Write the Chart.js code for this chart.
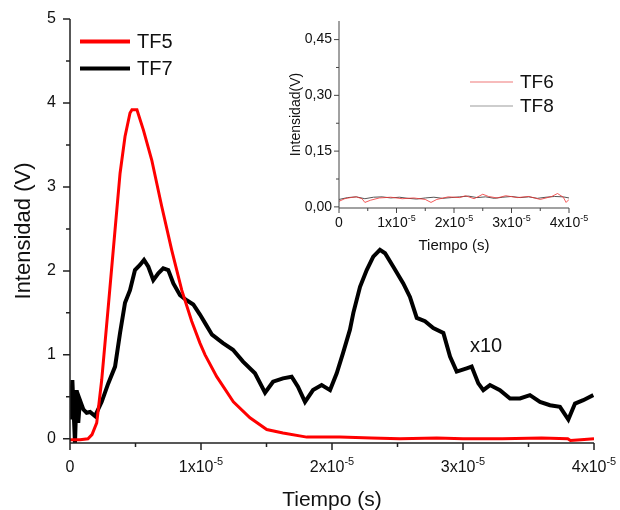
<!DOCTYPE html>
<html>
<head>
<meta charset="utf-8">
<script src="https://cdn.jsdelivr.net/npm/chart.js@4.4.0/dist/chart.umd.min.js"></script>
<style>
  html, body { margin: 0; padding: 0; background: #fff; }
  #wrap { position: relative; width: 620px; height: 510px; }
  #wrap canvas { position: absolute; left: 0; top: 0; }
</style>
</head>
<body>
<div id="wrap">
  <canvas id="main" width="620" height="510"></canvas>
  <canvas id="inset" width="620" height="510"></canvas>
</div>
<script>
// time in units of 1x10^-5 s, intensity in V (TF7 shown x10)
const tf5Time = [0, 0.076, 0.137, 0.168, 0.204, 0.242, 0.292, 0.344, 0.382, 0.420, 0.458, 0.473, 0.511, 0.560, 0.624, 0.700, 0.776, 0.853, 0.929, 0.992, 1.031, 1.120, 1.247, 1.374, 1.502, 1.626, 1.807, 2.061, 2.300, 2.519, 2.800, 3.000, 3.300, 3.600, 3.800, 3.820, 3.900, 4.000];
const tf5Values = [-0.01, -0.01, 0.0, 0.05, 0.19, 0.70, 1.57, 2.49, 3.16, 3.60, 3.88, 3.92, 3.92, 3.68, 3.32, 2.77, 2.25, 1.77, 1.40, 1.14, 1.00, 0.74, 0.44, 0.25, 0.11, 0.07, 0.02, 0.02, 0.01, 0.0, 0.01, 0.0, 0.0, 0.01, 0.0, -0.02, -0.01, 0.0];

const tf7Time = [0, 0.018, 0.038, 0.051, 0.063, 0.076, 0.102, 0.127, 0.153, 0.191, 0.242, 0.292, 0.344, 0.382, 0.420, 0.458, 0.496, 0.534, 0.565, 0.598, 0.636, 0.674, 0.712, 0.750, 0.789, 0.840, 0.891, 0.941, 0.992, 1.038, 1.084, 1.168, 1.244, 1.321, 1.412, 1.489, 1.550, 1.626, 1.692, 1.740, 1.794, 1.855, 1.921, 1.985, 2.036, 2.084, 2.137, 2.163, 2.214, 2.265, 2.315, 2.366, 2.405, 2.468, 2.544, 2.595, 2.647, 2.710, 2.773, 2.850, 2.901, 2.952, 3.028, 3.066, 3.117, 3.155, 3.206, 3.282, 3.359, 3.435, 3.511, 3.588, 3.664, 3.740, 3.804, 3.855, 3.918, 3.995];
const tf7Values = [0.23, 0.70, -0.05, 0.58, 0.19, 0.46, 0.35, 0.31, 0.32, 0.27, 0.44, 0.66, 0.86, 1.26, 1.62, 1.77, 2.01, 2.07, 2.13, 2.05, 1.89, 1.97, 2.03, 2.01, 1.85, 1.71, 1.65, 1.60, 1.48, 1.36, 1.24, 1.14, 1.06, 0.92, 0.78, 0.55, 0.68, 0.72, 0.74, 0.62, 0.44, 0.58, 0.64, 0.58, 0.78, 1.02, 1.30, 1.50, 1.81, 2.01, 2.17, 2.25, 2.21, 2.05, 1.85, 1.69, 1.44, 1.40, 1.32, 1.26, 0.98, 0.80, 0.84, 0.86, 0.66, 0.58, 0.64, 0.58, 0.48, 0.48, 0.52, 0.44, 0.40, 0.38, 0.23, 0.42, 0.46, 0.52];

// inset traces
const tf6Time = [0, 0.1, 0.2, 0.3, 0.4, 0.45, 0.55, 0.7, 0.9, 1.1, 1.3, 1.5, 1.6, 1.7, 1.9, 2.1, 2.2, 2.35, 2.5, 2.6, 2.75, 2.9, 3.1, 3.3, 3.5, 3.7, 3.8, 3.9, 3.95, 4.0];
const tf6Values = [0.015, 0.022, 0.025, 0.027, 0.022, 0.012, 0.018, 0.024, 0.026, 0.022, 0.024, 0.020, 0.012, 0.020, 0.027, 0.025, 0.030, 0.022, 0.034, 0.028, 0.024, 0.030, 0.025, 0.028, 0.020, 0.028, 0.036, 0.026, 0.012, 0.020];
const tf8Time = [0, 0.15, 0.3, 0.45, 0.6, 0.75, 0.9, 1.05, 1.2, 1.35, 1.5, 1.65, 1.8, 1.95, 2.1, 2.25, 2.4, 2.55, 2.7, 2.85, 3.0, 3.15, 3.3, 3.45, 3.6, 3.75, 3.9, 4.0];
const tf8Values = [0.020, 0.025, 0.027, 0.022, 0.026, 0.027, 0.024, 0.026, 0.023, 0.021, 0.024, 0.026, 0.023, 0.025, 0.027, 0.029, 0.025, 0.027, 0.023, 0.026, 0.028, 0.025, 0.027, 0.023, 0.026, 0.028, 0.027, 0.024];

// ticks
const timeTicks = [0, 1, 2, 3, 4];
const timeMinor = [0.5, 1.5, 2.5, 3.5];
const timeLabels = ['0', '1x10', '2x10', '3x10', '4x10'];
const timeExp = '-5';
const mainYTicks = [0, 1, 2, 3, 4, 5];
const mainYMinor = [0.5, 1.5, 2.5, 3.5, 4.5];
const mainYLabels = ['0', '1', '2', '3', '4', '5'];
const insetYTicks = [0, 0.15, 0.30, 0.45];
const insetYMinor = [0.075, 0.225, 0.375];
const insetYLabels = ['0,00', '0,15', '0,30', '0,45'];

const FONT = '"Liberation Sans", Arial, sans-serif';

function pts(t, v) {
    return t.map((x, i) => ({ x: x, y: v[i] }));
}

// per-canvas drawing spec for axes, labels and legend
const decorSpec = {
    main: {
        axisColor: '#222', axisWidth: 1.5, major: 7, minor: 4,
        yTicks: mainYTicks, yMinor: mainYMinor, yLabels: mainYLabels,
        xMinor: timeMinor, tickSize: 16, supSize: 11, supRise: 7, xLabelBase: 472, yLabelGap: 14,
        xTitle: 'Tiempo (s)', xTitleSize: 21, xTitleY: 506,
        yTitle: 'Intensidad (V)', yTitleSize: 22, yTitleX: 24,
        legend: { x1: 80, x2: 130, textX: 137, ys: [41.5, 68.5], size: 20, width: 4, colors: ['#ff0000', '#000000'] },
        note: { text: 'x10', x: 470, y: 352, size: 20 }
    },
    inset: {
        axisColor: '#444', axisWidth: 1, major: 5, minor: 3,
        yTicks: insetYTicks, yMinor: insetYMinor, yLabels: insetYLabels,
        xMinor: timeMinor, tickSize: 14, supSize: 9, supRise: 6, xLabelBase: 227, yLabelGap: 7,
        xTitle: 'Tiempo (s)', xTitleSize: 15, xTitleY: 250,
        yTitle: 'Intensidad(V)', yTitleSize: 14, yTitleX: 296,
        legend: { x1: 470, x2: 513, textX: 520, ys: [82, 106], size: 19, width: 1.5, colors: ['#f5a5a5', '#bdbdbd'] }
    }
};

// Chart.js has no minor ticks or superscript labels, so axes are drawn here
const decor = {
    id: 'decor',
    afterDraw(chart) {
        const o = decorSpec[chart.canvas.id];
        const ctx = chart.ctx, a = chart.chartArea;
        const xs = chart.scales.x, ys = chart.scales.y;
        ctx.save();
        ctx.strokeStyle = o.axisColor;
        ctx.lineWidth = o.axisWidth;
        ctx.beginPath();
        ctx.moveTo(a.left, a.top);
        ctx.lineTo(a.left, a.bottom);
        ctx.lineTo(a.right, a.bottom);
        o.yTicks.forEach(v => {
            const p = ys.getPixelForValue(v);
            ctx.moveTo(a.left - o.major, p); ctx.lineTo(a.left, p);
        });
        o.yMinor.forEach(v => {
            const p = ys.getPixelForValue(v);
            ctx.moveTo(a.left - o.minor, p); ctx.lineTo(a.left, p);
        });
        timeTicks.forEach(v => {
            const p = xs.getPixelForValue(v);
            ctx.moveTo(p, a.bottom); ctx.lineTo(p, a.bottom + o.major);
        });
        o.xMinor.forEach(v => {
            const p = xs.getPixelForValue(v);
            ctx.moveTo(p, a.bottom); ctx.lineTo(p, a.bottom + o.minor);
        });
        ctx.stroke();

        ctx.fillStyle = '#111';
        ctx.font = o.tickSize + 'px ' + FONT;
        ctx.textAlign = 'right';
        ctx.textBaseline = 'middle';
        o.yTicks.forEach((v, i) => ctx.fillText(o.yLabels[i], a.left - o.yLabelGap, ys.getPixelForValue(v)));

        ctx.textAlign = 'left';
        ctx.textBaseline = 'alphabetic';
        timeTicks.forEach((v, i) => {
            const base = timeLabels[i];
            const sup = v === 0 ? '' : timeExp;
            ctx.font = o.tickSize + 'px ' + FONT;
            const w1 = ctx.measureText(base).width;
            ctx.font = o.supSize + 'px ' + FONT;
            const w2 = sup ? ctx.measureText(sup).width : 0;
            const x0 = xs.getPixelForValue(v) - (w1 + w2) / 2;
            ctx.font = o.tickSize + 'px ' + FONT;
            ctx.fillText(base, x0, o.xLabelBase);
            if (sup) {
                ctx.font = o.supSize + 'px ' + FONT;
                ctx.fillText(sup, x0 + w1, o.xLabelBase - o.supRise);
            }
        });

        // axis titles
        ctx.textAlign = 'center';
        ctx.font = o.xTitleSize + 'px ' + FONT;
        ctx.fillText(o.xTitle, (a.left + a.right) / 2, o.xTitleY);
        ctx.save();
        ctx.translate(o.yTitleX, (a.top + a.bottom) / 2);
        ctx.rotate(-Math.PI / 2);
        ctx.textBaseline = 'middle';
        ctx.font = o.yTitleSize + 'px ' + FONT;
        ctx.fillText(o.yTitle, 0, 0);
        ctx.restore();

        // legend
        const lg = o.legend;
        ctx.textAlign = 'left';
        ctx.textBaseline = 'middle';
        ctx.font = lg.size + 'px ' + FONT;
        chart.data.datasets.forEach((ds, i) => {
            ctx.strokeStyle = lg.colors[i];
            ctx.lineWidth = lg.width;
            ctx.beginPath();
            ctx.moveTo(lg.x1, lg.ys[i]);
            ctx.lineTo(lg.x2, lg.ys[i]);
            ctx.stroke();
            ctx.fillStyle = '#111';
            ctx.fillText(ds.label, lg.textX, lg.ys[i] + 1);
        });

        if (o.note) {
            ctx.textBaseline = 'alphabetic';
            ctx.font = o.note.size + 'px ' + FONT;
            ctx.fillText(o.note.text, o.note.x, o.note.y);
        }
        ctx.restore();
    }
};

function axis(min, max, size, vertical) {
    return {
        type: 'linear', min: min, max: max,
        ticks: { display: false },
        grid: { display: false },
        border: { display: false },
        afterFit: s => { if (vertical) s.width = size; else s.height = size; }
    };
}

new Chart(document.getElementById('main'), {
    type: 'line',
    data: {
        datasets: [
            { label: 'TF5', data: pts(tf5Time, tf5Values), borderColor: '#ff0000', borderWidth: 3, pointRadius: 0, tension: 0 },
            { label: 'TF7', data: pts(tf7Time, tf7Values), borderColor: '#000000', borderWidth: 4, pointRadius: 0, tension: 0 }
        ]
    },
    options: {
        responsive: false,
        animation: false,
        devicePixelRatio: 1,
        layout: { padding: { left: 0, top: 19, right: 26, bottom: 0 } },
        plugins: { legend: { display: false }, tooltip: { enabled: false } },
        scales: {
            x: axis(0, 4, 67, false),
            y: axis(-0.05, 5, 70, true)
        }
    },
    plugins: [decor]
});

new Chart(document.getElementById('inset'), {
    type: 'line',
    data: {
        datasets: [
            { label: 'TF6', data: pts(tf6Time, tf6Values), borderColor: 'rgba(240,50,50,0.8)', borderWidth: 1, pointRadius: 0, tension: 0 },
            { label: 'TF8', data: pts(tf8Time, tf8Values), borderColor: '#555555', borderWidth: 1, pointRadius: 0, tension: 0 }
        ]
    },
    options: {
        responsive: false,
        animation: false,
        devicePixelRatio: 1,
        layout: { padding: { left: 0, top: 21, right: 51, bottom: 0 } },
        plugins: { legend: { display: false }, tooltip: { enabled: false } },
        scales: {
            x: axis(0, 4, 302, false),
            y: axis(-0.003, 0.5, 339, true)
        }
    },
    plugins: [decor]
});
</script>
</body>
</html>
